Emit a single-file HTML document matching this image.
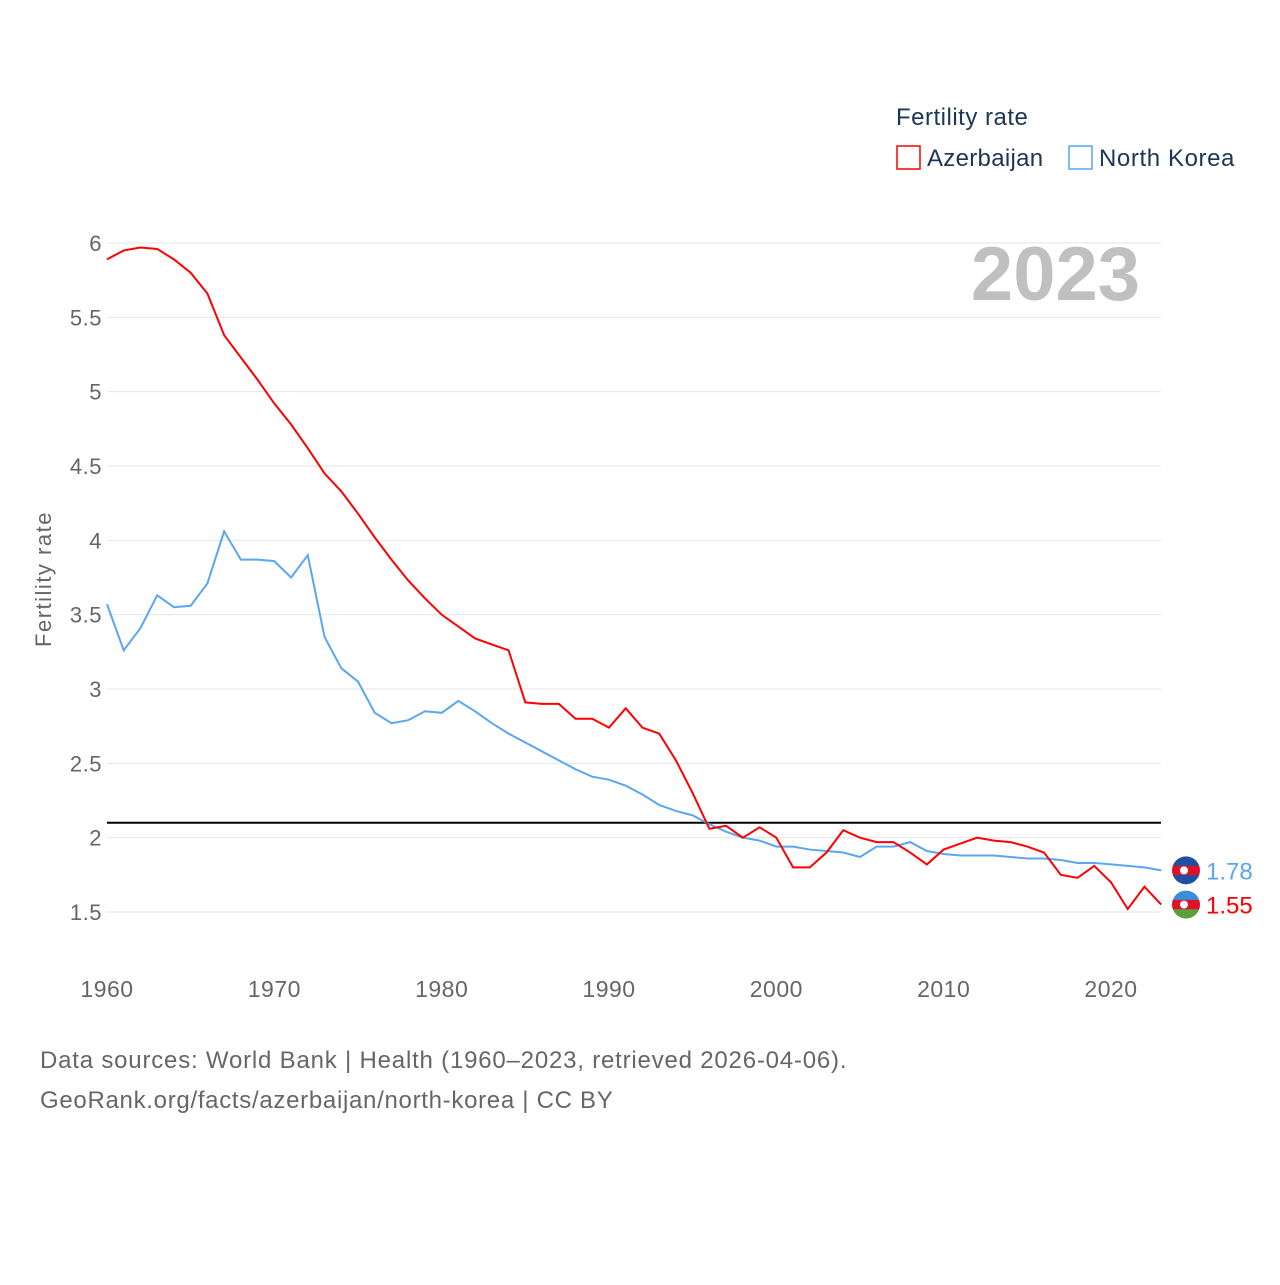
<!DOCTYPE html>
<html><head><meta charset="utf-8"><style>
body{margin:0;background:#fff;font-family:"Liberation Sans",sans-serif}
svg text{font-family:"Liberation Sans",sans-serif}
</style></head><body>
<svg id="chart" width="1280" height="1280" xmlns="http://www.w3.org/2000/svg">
<text x="896" y="125" font-size="24" fill="#1d3557" letter-spacing="0.5">Fertility rate</text>
<g><rect x="897" y="146" width="23" height="23" fill="none" stroke="#ff0000" stroke-width="1.5"/><text x="927" y="166" font-size="24" fill="#1d3557" letter-spacing="0.3">Azerbaijan</text></g>
<g><rect x="1069" y="146" width="23" height="23" fill="none" stroke="#5aa6f0" stroke-width="1.5"/><text x="1099" y="166" font-size="24" fill="#1d3557" letter-spacing="0.6">North Korea</text></g>
<text x="1140" y="300" font-size="76" font-weight="bold" fill="#c0c0c0" text-anchor="end">2023</text>
<text transform="translate(51,579) rotate(-90)" font-size="22" fill="#666" text-anchor="middle" letter-spacing="1.5">Fertility rate</text>
<g id="grid"></g><g id="series"></g>
<text x="40" y="1068" font-size="24" fill="#666" letter-spacing="0.8">Data sources: World Bank | Health (1960–2023, retrieved 2026-04-06).</text>
<text x="40" y="1108" font-size="24" fill="#666" letter-spacing="0.7">GeoRank.org/facts/azerbaijan/north-korea | CC BY</text>
</svg>
<script>
const years=[];for(let y=1960;y<=2023;y++)years.push(y);
const azerbaijan=[5.89,5.95,5.97,5.96,5.89,5.80,5.66,5.38,5.23,5.08,4.92,4.78,4.62,4.45,4.33,4.18,4.02,3.87,3.73,3.61,3.50,3.42,3.34,3.30,3.26,2.91,2.90,2.90,2.80,2.80,2.74,2.87,2.74,2.70,2.52,2.30,2.06,2.08,2.00,2.07,2.00,1.80,1.80,1.90,2.05,2.00,1.97,1.97,1.90,1.82,1.92,1.96,2.00,1.98,1.97,1.94,1.90,1.75,1.73,1.81,1.70,1.52,1.67,1.55];
const northKorea=[3.57,3.26,3.41,3.63,3.55,3.56,3.71,4.06,3.87,3.87,3.86,3.75,3.90,3.35,3.14,3.05,2.84,2.77,2.79,2.85,2.84,2.92,2.85,2.77,2.70,2.64,2.58,2.52,2.46,2.41,2.39,2.35,2.29,2.22,2.18,2.15,2.09,2.04,2.00,1.98,1.94,1.94,1.92,1.91,1.90,1.87,1.94,1.94,1.97,1.91,1.89,1.88,1.88,1.88,1.87,1.86,1.86,1.85,1.83,1.83,1.82,1.81,1.80,1.78];
const yTicks=[1.5,2,2.5,3,3.5,4,4.5,5,5.5,6];
const xTicks=[1960,1970,1980,1990,2000,2010,2020];
const refValue=2.1;
const X=y=>107+(y-1960)*(1111-107)/60;
const Y=v=>243+(6-v)*(912-243)/4.5;
const NS="http://www.w3.org/2000/svg";
function mk(t,a,p){const e=document.createElementNS(NS,t);for(const k in a)e.setAttribute(k,a[k]);p.appendChild(e);return e;}
const g=document.getElementById('grid'),s=document.getElementById('series');
yTicks.forEach(v=>{
 const l=mk('line',{x1:107,x2:1161,y1:Y(v),y2:Y(v),stroke:'#e6e6e6'},g);
 
 
 const t=mk('text',{x:102,y:Y(v)+8,'font-size':22,fill:'#666','text-anchor':'end','letter-spacing':0.5},g);t.textContent=v;
 
 
});
xTicks.forEach(v=>{
 const t=mk('text',{x:X(v),y:997,'font-size':23,fill:'#666','text-anchor':'middle','letter-spacing':0.5},g);t.textContent=v;
 
 
});
const ref=mk('line',{x1:107,x2:1161,y1:Y(refValue),y2:Y(refValue),stroke:'#000','stroke-width':2},g);


function line(d,c,n){const p=mk('polyline',{points:d.map((v,i)=>X(years[i])+','+Y(v)).join(' '),fill:'none',stroke:c,'stroke-width':2},s);
 
 }
line(northKorea,'#5aa6f0','north-korea-line');
line(azerbaijan,'#ff0000','azerbaijan-line');
function endLbl(d,c,n,top,mid,bot){
 const v=d[d.length-1],cy=Y(v),cx=1186;
 const gg=mk('g',{},s);
 
 
 const clip=mk('clipPath',{id:'c'+n},gg);
 mk('circle',{cx:cx,cy:cy,r:14},clip);
 const h=28/3;
 [top,mid,bot].forEach((col,i)=>mk('rect',{x:cx-14,y:cy-14+i*h,width:28,height:h+0.5,fill:col,'clip-path':'url(#c'+n+')'},gg));
 mk('circle',{cx:cx-2,cy:cy,r:4,fill:'#fff'},gg);
 const t=mk('text',{x:1206,y:cy+9,'font-size':24,fill:c},s);t.textContent=v.toFixed(2);
 
 
}
endLbl(northKorea,'#5aa6f0','north-korea','#1f4fa0','#e0102a','#1f4fa0');
endLbl(azerbaijan,'#ff0000','azerbaijan','#3a8ed8','#e0102a','#5aa040');
</script>
</body></html>
